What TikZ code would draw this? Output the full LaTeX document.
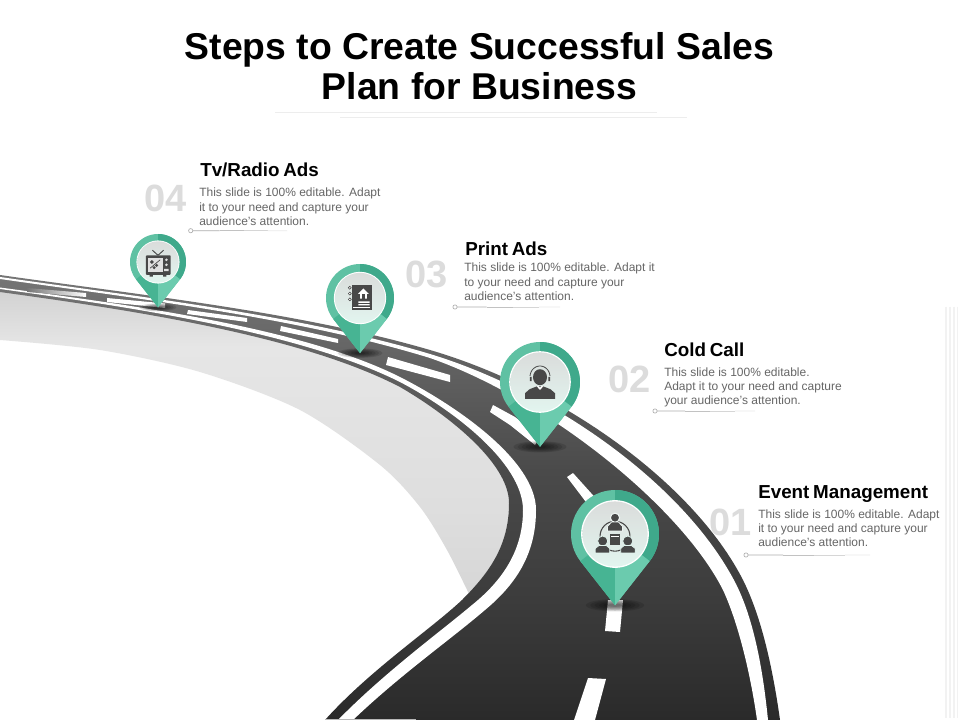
\documentclass[tikz,border=0pt]{standalone}
\usepackage{fontspec}
\setmainfont{Liberation Sans}
\usetikzlibrary{calc}
\definecolor{bodygray}{HTML}{666666}
\definecolor{numgray}{HTML}{DCDCDC}
\definecolor{pinbase}{HTML}{5FC1A3}
\definecolor{pindark}{HTML}{3FA98B}
\definecolor{conel}{HTML}{47B493}
\definecolor{coner}{HTML}{6BCBAE}
\definecolor{mint}{HTML}{E2F5EF}
\definecolor{midmint}{HTML}{EDF4F2}
\definecolor{topgray}{HTML}{DADCDB}
\definecolor{icon}{HTML}{484848}
\definecolor{ra}{HTML}{757575}
\definecolor{rb}{HTML}{5A5A5A}
\definecolor{rc}{HTML}{4A4A4A}
\definecolor{rd}{HTML}{3C3C3C}
\definecolor{re}{HTML}{2A2A2A}
\definecolor{sa}{HTML}{D2D2D2}
\definecolor{sb}{HTML}{E6E6E6}
\definecolor{sc}{HTML}{DEDEDE}
\definecolor{sd}{HTML}{D6D6D6}
\pgfdeclareverticalshading{roadshade}{100bp}{color(0bp)=(re);color(25bp)=(re);color(38.5bp)=(rd);color(53bp)=(rc);color(61bp)=(rb);color(75bp)=(ra);color(100bp)=(ra)}
\pgfdeclareverticalshading{sideshade}{100bp}{color(0bp)=(sd);color(25bp)=(sd);color(40bp)=(sc);color(66bp)=(sb);color(75bp)=(sa);color(100bp)=(sa)}
\tikzset{
  titletext/.style={anchor=base,inner sep=0pt,font=\fontsize{28}{28}\selectfont\bfseries,text=black},
  headtext/.style={anchor=base west,inner sep=0pt,font=\fontsize{14.1}{15}\selectfont\bfseries,text=black,execute at begin node={\spaceskip=.2em\relax}},
  bodytext/.style={anchor=base west,inner sep=0pt,font=\fontsize{9}{10.8}\selectfont,text=bodygray},
  numtext/.style={anchor=base west,inner sep=0pt,font=\fontsize{28.5}{30}\selectfont\bfseries,text=numgray},
  leaddot/.style={circle,draw=black!30,fill=white,line width=.5pt,inner sep=0pt,minimum size=3.2pt},
  whiteband/.style={fill=white,draw=none},
  faintrule/.style={draw=black!7,line width=.6pt},
  stripe/.style={draw=black!5,line width=1.3pt},
  iconfill/.style={fill=icon,draw=none},
  iconline/.style={draw=icon,line width=.6pt,fill=none}
}
\newcommand{\pinmark}[4]{%
  \foreach \k in {1,.85,.7,.55,.4,.25}{%
    \fill[black,opacity=.13] (#1,{#2+1.62*#3}) ellipse ({.66*#3*\k} and {.14*#3*\k});}
  \begin{scope}[shift={(#1,#2)},scale=#3]
    \fill[pinbase] plot[domain=141.9:398.1,samples=50] ({cos(\x)},{sin(\x)}) -- (0,1.62) -- cycle;
    \fill[pindark] (0,0) -- plot[domain=270:398.1,samples=30] ({cos(\x)},{sin(\x)}) -- cycle;
    \fill[conel] (0,0) -- (.0,1.62) -- ({cos(141.9)},{sin(141.9)}) -- cycle;
    \fill[coner] (0,0) -- (.0,1.62) -- ({cos(38.1)},{sin(38.1)}) -- cycle;
    \fill[white] (0,0) circle (.77);
    \shade[top color=topgray,middle color=midmint,bottom color=mint] (0,0) circle (.74);
    #4
  \end{scope}}
\newcommand{\icontv}{%
  \draw[icon,line width=.7pt] (0,-.24) -- (-.2,-.42) (0,-.24) -- (.2,-.42);
  \fill[iconfill,rounded corners=.6pt] (-.43,-.24) rectangle (.45,.46);
  \fill[black!12] (-.35,-.15) rectangle (.17,.34);
  \fill[iconfill] (-.22,.0) circle (.07) (-.05,.12) circle (.06) (-.14,.2) circle (.06);
  \draw[icon,line width=.5pt] (-.28,.22) -- (.08,-.08);
  \fill[black!12] (.3,-.08) circle (.05) (.3,.1) circle (.05) (.22,.25) rectangle (.38,.33);
  \fill[iconfill] (-.3,.46) rectangle (-.18,.52) (.18,.46) rectangle (.3,.52);}
\newcommand{\iconbook}{%
  \fill[iconfill] (-.23,-.39) rectangle (.34,.36);
  \fill[icon] (-.3,-.3) circle (.055) (-.3,-.13) circle (.055) (-.3,.04) circle (.055);
  \fill[white] (-.3,-.3) circle (.025) (-.3,-.13) circle (.025) (-.3,.04) circle (.025);
  \fill[white] (-.06,-.12) -- (.1,-.28) -- (.26,-.12) -- (.2,-.12) -- (.2,.02) -- (0,.02) -- (0,-.12) -- cycle;
  \fill[icon] (.06,-.12) rectangle (.14,.02);
  \fill[white] (-.05,.1) rectangle (.28,.14) (-.05,.18) rectangle (.28,.22);
  \fill[white] (-.2,.27) rectangle (.3,.3);}
\newcommand{\iconagent}{%
  \fill[iconfill] (0,-.12) ellipse (.175 and .2);
  \draw[icon,line width=.6pt] plot[domain=185:355,samples=20] ({.25*cos(\x)},{-.13+.27*sin(\x)});
  \fill[iconfill] (-.255,-.13) rectangle (-.21,-.02) (.21,-.13) rectangle (.255,-.02);
  \fill[iconfill] (-.375,.42) -- (-.375,.28) -- (-.26,.18) -- (-.08,.11) -- (.08,.11) -- (.26,.18) -- (.375,.28) -- (.375,.42) -- cycle;
  \fill[white] (-.08,.11) -- (0,.2) -- (.08,.11) -- (.04,.1) -- (0,.14) -- (-.04,.1) -- cycle;}
\newcommand{\iconevent}{%
  \draw[icon,line width=.8pt] (0,.05) circle (.34);
  \fill[iconfill,draw=midmint,line width=.8pt] (0,-.37) circle (.105);
  \fill[iconfill,draw=midmint,line width=.5pt] (-.17,-.07) -- (-.17,-.17) -- (-.08,-.27) -- (.08,-.27) -- (.17,-.17) -- (.17,-.07) -- cycle;
  \fill[iconfill] (-.11,-.01) rectangle (.11,.24);
  \fill[white] (-.08,.04) rectangle (.08,.06);
  \fill[iconfill,draw=mint,line width=.6pt] (-.28,.16) circle (.115) (.29,.16) circle (.115);
  \fill[iconfill,draw=mint,line width=.5pt] (-.45,.43) -- (-.45,.33) -- (-.36,.26) -- (-.2,.26) -- (-.12,.33) -- (-.12,.43) -- cycle;
  \fill[iconfill,draw=mint,line width=.5pt] (.13,.43) -- (.13,.33) -- (.21,.26) -- (.37,.26) -- (.46,.33) -- (.46,.43) -- cycle;}
\newcommand{\leader}[4]{%
  \coordinate (#1s) at (#2,#3);
  \coordinate (#1e) at (#4,#3);
  \draw[black!32,line width=.5pt] (#1s) -- ($(#1s)!.3!(#1e)$);
  \draw[black!24,line width=.5pt] ($(#1s)!.3!(#1e)$) -- ($(#1s)!.55!(#1e)$);
  \draw[black!16,line width=.5pt] ($(#1s)!.55!(#1e)$) -- ($(#1s)!.8!(#1e)$);
  \draw[black!8,line width=.5pt] ($(#1s)!.8!(#1e)$) -- (#1e);
  \node[leaddot] (#1d) at (#1s) {};}
\newcommand{\bodylines}[3]{\begin{tabular}[t]{@{}l@{}}#1\\#2\\#3\end{tabular}}
\begin{document}
\begin{tikzpicture}[x=.75pt,y=-.75pt]
\useasboundingbox (0,0) rectangle (960,720);
\fill[white] (0,0) rectangle (960,720);
% faint stripes at the right
\foreach \sx in {946,950,953.7,957.5}{\draw[stripe] (\sx,307) -- (\sx,718);}
% side surface
\shade[shading=sideshade] (0,291) .. controls (130,309) and (300,334) .. (400,386)
  .. controls (445,412) and (509,462) .. (509,503)
  .. controls (509,545) and (490,572) .. (462,600)
  -- plot[smooth] coordinates {(470,596) (447,550) (420,507) (380,465) (300,410) (200,372) (100,350) (0,340)} -- cycle;
% road
\shade[shading=roadshade] (0,275) .. controls (140,295) and (300,312) .. (430,350)
  .. controls (560,388) and (693,482) .. (743,580)
  .. controls (762,618) and (773,670) .. (780,720)
  -- (325,720)
  .. controls (370,670) and (430,630) .. (462,600)
  .. controls (490,572) and (509,545) .. (509,503)
  .. controls (509,462) and (445,413) .. (400,387)
  .. controls (300,335) and (130,310) .. (0,292) -- cycle;
% outer white band
\fill[whiteband] (0,277) .. controls (140,297) and (300,315) .. (430,354)
  .. controls (555,392) and (686,486) .. (736,584)
  .. controls (754,620) and (763,670) .. (768,720)
  -- (757,720)
  .. controls (750,670) and (737,620) .. (723,590)
  .. controls (680,505) and (545,398) .. (430,358)
  .. controls (300,318) and (140,299) .. (0,279) -- cycle;
% inner white band
\fill[whiteband] (0,289) .. controls (130,307) and (300,332) .. (400,382)
  .. controls (450,408) and (523,462) .. (523,510)
  .. controls (523,550) and (503,580) .. (472,605)
  .. controls (440,632) and (385,672) .. (338,720)
  -- (353,720)
  .. controls (400,675) and (450,640) .. (485,610)
  .. controls (515,585) and (536,555) .. (536,510)
  .. controls (536,460) and (455,405) .. (400,377)
  .. controls (300,327) and (130,305) .. (0,287.5) -- cycle;
% centre dashes
\shade[left color=ra,right color=white] (27,288) -- (86,293) -- (86,297) -- (27,292) -- cycle;
\fill[whiteband] (107,298) -- (165,303.5) -- (165,308) -- (107,302) -- cycle;
\fill[whiteband] (188,310) -- (247,318) -- (247,322) -- (187,314) -- cycle;
\fill[whiteband] (281,326) -- (338,339) -- (338,343) -- (280,331) -- cycle;
\fill[whiteband] (388,357) -- (450,375) -- (450,382) -- (386,365) -- cycle;
\fill[whiteband] (490,412) -- (493,405) -- (515,417) -- (540,437) -- (535,445) -- (510,425) -- cycle;
\fill[whiteband] (567,477) -- (573,473) -- (600,503) -- (592,510) -- cycle;
\fill[whiteband] (608,600) -- (623,600) -- (620,632) -- (605,631) -- cycle;
\fill[whiteband] (588,678) -- (606,679) -- (595,720) -- (574,720) -- cycle;
\draw[black!28,line width=.7pt] (325,719.6) -- (416,719.6);
% pins
\pinmark{158}{262}{28}{\icontv}
\pinmark{360}{298}{34}{\iconbook}
\pinmark{540}{382}{40}{\iconagent}
\pinmark{615}{534}{44}{\iconevent}
% title
\node[titletext] (t1) at (479.5,59.5) {Steps to Create Successful Sales};
\node[titletext] (t2) at (479.5,99.5) {Plan for Business};
\coordinate (r1a) at (275,112.7); \coordinate (r1b) at (657,112.7);
\coordinate (r2a) at (340,117); \coordinate (r2b) at (687,117);
\draw[faintrule] (r1a) -- (r1b);
\draw[faintrule] (r2a) -- (r2b);
% numbers
\node[numtext] (n4) at (144.5,212) {04};
\node[numtext] (n3) at (405,287) {03};
\node[numtext] (n2) at (608,392) {02};
\node[numtext] (n1) at (709.5,535) {01};
% headings
\node[headtext] (h4) at (200,176.5) {Tv/Radio Ads};
\node[headtext] (h3) at (465,255.5) {Print Ads};
\node[headtext] (h2) at (664,356) {Cold Call};
\node[headtext] (h1) at (758,498) {Event Management};
% body
\node[bodytext] (b4) at (199,197) {\bodylines{This slide is 100\% editable. Adapt}{it to your need and capture your}{audience’s attention.}};
\node[bodytext] (b3) at (464,272) {\bodylines{This slide is 100\% editable. Adapt it}{to your need and capture your}{audience’s attention.}};
\node[bodytext] (b2) at (664,376) {\bodylines{This slide is 100\% editable.}{Adapt it to your need and capture}{your audience’s attention.}};
\node[bodytext] (b1) at (758,518) {\bodylines{This slide is 100\% editable. Adapt}{it to your need and capture your}{audience’s attention.}};
% leaders
\leader{l4}{190.7}{230.7}{287}
\leader{l3}{455}{307}{560}
\leader{l2}{655}{411}{755}
\leader{l1}{746}{555}{870}
\end{tikzpicture}
\end{document}
